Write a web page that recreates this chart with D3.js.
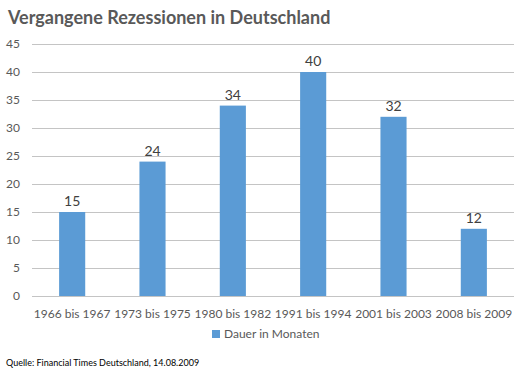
<!DOCTYPE html>
<style>
body { margin: 0; background-color: #FFFFFF; }
text { font-family: Lato, "Open Sans", sans-serif; }
</style>
<svg width="528" height="374"></svg>
<script src="https://d3js.org/d3.v7.min.js"></script>
<script>

var categories = ["1966 bis 1967", "1973 bis 1975", "1980 bis 1982", "1991 bis 1994", "2001 bis 2003", "2008 bis 2009"];
var months = [15, 24, 34, 40, 32, 12];
var yTicks = [0, 5, 10, 15, 20, 25, 30, 35, 40, 45];
var seriesName = "Dauer in Monaten";

var svg = d3.select("svg"),
    margin = {top: 44, right: 14, bottom: 78, left: 32},
    width = +svg.attr("width") - margin.left - margin.right,
    height = +svg.attr("height") - margin.top - margin.bottom,
    g = svg.append("g").attr("transform", "translate(" + margin.left + "," + margin.top + ")");

var x = d3.scaleBand()
    .domain(categories)
    .range([0, width])
    .paddingInner(0.675)
    .paddingOuter(0.3375);

var y = d3.scaleLinear()
    .domain([0, 45])
    .range([height, 0]);

// gridlines
g.append("g")
  .selectAll("line")
  .data(yTicks)
  .enter().append("line")
    .attr("x1", 0)
    .attr("x2", width)
    .attr("y1", function(d) { return Math.round(y(d)) + 0.5; })
    .attr("y2", function(d) { return Math.round(y(d)) + 0.5; })
    .attr("stroke", "#c4c4c4")
    .attr("stroke-width", 1);

// y tick labels
g.append("g")
  .selectAll("text")
  .data(yTicks)
  .enter().append("text")
    .attr("x", -12)
    .attr("y", function(d) { return y(d); })
    .attr("dy", "0.35em")
    .attr("text-anchor", "end")
    .attr("font-size", 12)
    .attr("fill", "#595959")
    .text(function(d) { return d; });

// bars
g.append("g")
  .selectAll("rect")
  .data(months)
  .enter().append("rect")
    .attr("x", function(d, i) { return x(categories[i]); })
    .attr("y", function(d) { return y(d); })
    .attr("width", x.bandwidth())
    .attr("height", function(d) { return height - y(d); })
    .attr("fill", "#5b9bd5");

// value labels
g.append("g")
  .selectAll("text")
  .data(months)
  .enter().append("text")
    .attr("x", function(d, i) { return x(categories[i]) + x.bandwidth() / 2; })
    .attr("y", function(d) { return y(d) - 6; })
    .attr("text-anchor", "middle")
    .attr("font-size", 14)
    .attr("fill", "#404040")
    .text(function(d) { return d; });

// x labels
g.append("g")
  .selectAll("text")
  .data(categories)
  .enter().append("text")
    .attr("x", function(d) { return x(d) + x.bandwidth() / 2; })
    .attr("y", height + 22)
    .attr("text-anchor", "middle")
    .attr("font-size", 12)
    .attr("fill", "#595959")
    .text(function(d) { return d; });

// title
svg.append("text")
    .attr("x", 8)
    .attr("y", 24)
    .attr("font-size", 18)
    .attr("font-weight", "bold")
    .attr("fill", "#595959")
    .text("Vergangene Rezessionen in Deutschland");

// legend
var legend = svg.append("g").attr("transform", "translate(212,338)");
legend.append("rect")
    .attr("x", 0)
    .attr("y", -8)
    .attr("width", 8)
    .attr("height", 8)
    .attr("fill", "#5b9bd5");
legend.append("text")
    .attr("x", 12)
    .attr("y", 0)
    .attr("font-size", 12)
    .attr("fill", "#595959")
    .text(seriesName);

// source
svg.append("text")
    .attr("x", 6)
    .attr("y", 366)
    .attr("font-size", 9)
    .attr("fill", "#000")
    .text("Quelle: Financial Times Deutschland, 14.08.2009");

</script>
